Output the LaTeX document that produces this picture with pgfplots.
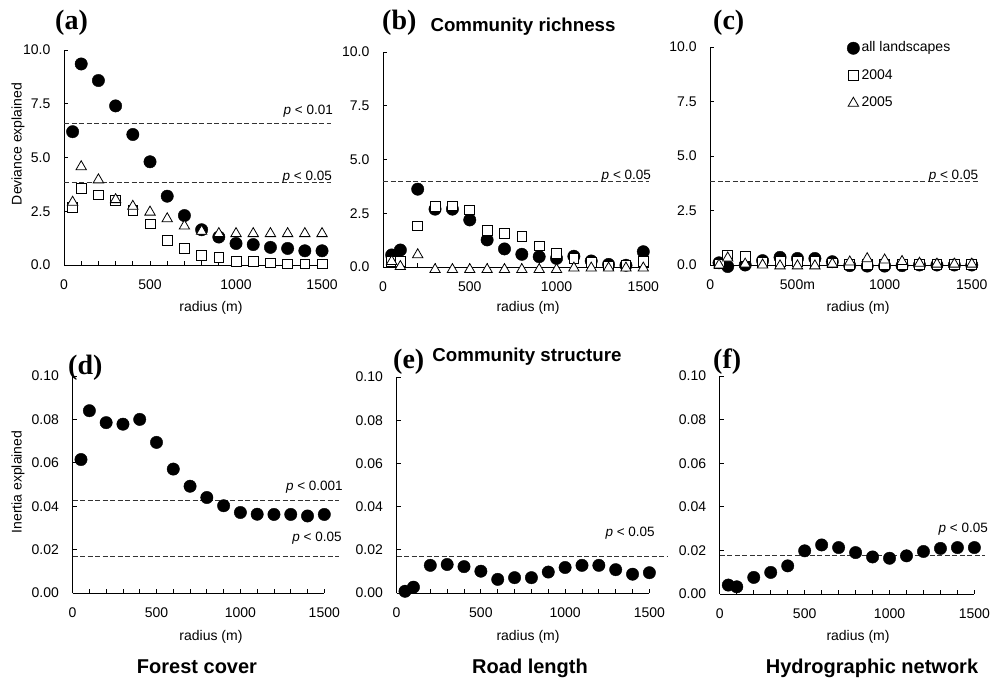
\documentclass[border=0pt]{standalone}
\usepackage{fontspec}
\setmainfont{Liberation Sans}
\newfontfamily\tnr{Liberation Serif}
\usepackage{pgfplots}
\pgfplotsset{compat=1.18}
\pgfplotsset{
  myax/.style={
    scale only axis, clip=false,
    axis x line*=bottom, axis y line*=left,
    axis line style={black, line width=0.8bp},
    tick style={black, line width=0.8bp},
    tick align=inside,
    major tick length=4bp, minor tick length=4bp,
    xmin=0, ymin=0,
    xtick={0,500,1000,1500},
    xticklabels={0,500,1000,1500},
    minor xtick={100,200,300,400,600,700,800,900,1100,1200,1300,1400},
    tick label style={font=\fontsize{14bp}{16bp}\selectfont},
    xticklabel style={anchor=center, inner sep=0pt, yshift=-20bp},
    yticklabel style={anchor=east, inner sep=0pt, xshift=-13.5bp},
    /pgf/number format/assume math mode=true,
    anchor=south west,
  },
  topax/.style={myax, xmax=1530, ymax=10, ytick={0,2.5,5,7.5,10},
    yticklabels={0.0,2.5,5.0,7.5,10.0}},
  botax/.style={myax, xmax=1500, ymax=0.1, ytick={0,0.02,0.04,0.06,0.08,0.1},
    yticklabels={0.00,0.02,0.04,0.06,0.08,0.10}},
  allp/.style={only marks, mark=*, mark size=6.2bp, draw=black, fill=black},
  y04/.style={only marks, mark=square*, mark size=4.9bp, draw=black, fill=white, line width=0.8bp},
  y05/.style={only marks, mark=triangle*, mark size=6bp, draw=black, fill=white, line width=0.8bp},
  thr/.style={black!80, line width=1bp, dash pattern=on 5bp off 2.5bp, mark=none, forget plot},
}
\newcommand{\pl}[1]{\textit{p} < #1}
\begin{document}
\begin{tikzpicture}[every node/.style={font=\fontsize{14bp}{16bp}\selectfont}]
\useasboundingbox (0,0) rectangle (993bp,680bp);

% (a)
\begin{axis}[topax, at={(64bp,415bp)}, width=263.2bp, height=215bp]
\addplot[thr] coordinates {(0,6.57) (1554,6.57)};
\addplot[thr] coordinates {(0,3.83) (1554,3.83)};
\addplot[allp] coordinates {(50,6.2)(100,9.35)(200,8.58)(300,7.4)(400,6.07)(500,4.8)(600,3.2)(700,2.3)(800,1.64)(900,1.3)(1000,1.0)(1100,0.95)(1200,0.82)(1300,0.77)(1400,0.66)(1500,0.66)};
\addplot[y04] coordinates {(50,2.68)(100,3.57)(200,3.26)(300,2.99)(400,2.53)(500,1.91)(600,1.15)(700,0.77)(800,0.46)(900,0.35)(1000,0.15)(1100,0.15)(1200,0.1)(1300,0.05)(1400,0.05)(1500,0.05)};
\addplot[y05] coordinates {(50,2.92)(100,4.57)(200,3.96)(300,3.04)(400,2.73)(500,2.46)(600,2.15)(700,1.81)(800,1.57)(900,1.46)(1000,1.46)(1100,1.46)(1200,1.46)(1300,1.46)(1400,1.46)(1500,1.46)};
\node[anchor=base east, inner sep=0pt, yshift=9bp, font=\fontsize{13.5bp}{15bp}\selectfont] at (axis cs:1564,6.57) {\pl{0.01}};
\node[anchor=base east, inner sep=0pt, yshift=2.5bp, font=\fontsize{13.5bp}{15bp}\selectfont] at (axis cs:1558,3.83) {\pl{0.05}};
\end{axis}

% (b)
\begin{axis}[topax, at={(383bp,413bp)}, width=265.5bp, height=215bp]
\addplot[thr] coordinates {(0,3.97) (1530,3.97)};
\addplot[allp] coordinates {(50,0.56)(100,0.79)(200,3.62)(300,2.69)(400,2.69)(500,2.19)(600,1.26)(700,0.84)(800,0.59)(900,0.48)(1000,0.40)(1100,0.5)(1200,0.28)(1300,0.12)(1400,0.08)(1500,0.71)};
\addplot[y04] coordinates {(50,0.27)(100,0.25)(200,1.91)(300,2.81)(400,2.84)(500,2.66)(600,1.69)(700,1.57)(800,1.44)(900,0.98)(1000,0.64)(1100,0.4)(1200,0.23)(1300,0.05)(1400,0.08)(1500,0.25)};
\addplot[y05] coordinates {(50,0.26)(100,0.02)(200,0.57)(300,-0.12)(400,-0.12)(500,-0.12)(600,-0.12)(700,-0.12)(800,-0.12)(900,-0.12)(1000,-0.12)(1100,-0.05)(1200,-0.05)(1300,-0.05)(1400,-0.05)(1500,-0.05)};
\node[anchor=base east, inner sep=0pt, yshift=2.5bp, font=\fontsize{13.5bp}{15bp}\selectfont] at (axis cs:1545,3.97) {\pl{0.05}};
\end{axis}

% (c)
\begin{axis}[topax, at={(710.3bp,415bp)}, width=266.7bp, height=218bp,
  xticklabels={0,500m,1000,1500},
  legend style={at={(axis cs:784,10.25)}, anchor=north west, draw=none, fill=none,
    inner sep=0pt, row sep=14.5bp, font=\fontsize{14bp}{16bp}\selectfont,
    nodes={inner sep=0pt, text height=10bp, text depth=3bp},
    /tikz/every odd column/.append style={column sep=2bp}},
  legend cell align=left,
  legend image code/.code={\draw[#1] plot coordinates {(0bp,0bp)};}]
\addplot[thr] coordinates {(0,3.82) (1537,3.82)};
\addplot[allp] coordinates {(50,0.1)(100,-0.07)(200,0.0)(300,0.2)(400,0.35)(500,0.3)(600,0.3)(700,0.15)(800,-0.03)(900,-0.05)(1000,-0.05)(1100,-0.03)(1200,0)(1300,0)(1400,0)(1500,0)};
\addplot[y04] coordinates {(50,0.05)(100,0.46)(200,0.40)(300,0.13)(400,0.15)(500,0.15)(600,0.17)(700,0.1)(800,0.03)(900,0.03)(1000,0.03)(1100,0.03)(1200,0.03)(1300,0.03)(1400,0.03)(1500,0.03)};
\addplot[y05] coordinates {(50,0.0)(100,0.32)(200,0.04)(300,0.0)(400,-0.04)(500,-0.04)(600,-0.04)(700,0.05)(800,0.14)(900,0.29)(1000,0.23)(1100,0.16)(1200,0.08)(1300,0.04)(1400,0.04)(1500,0.04)};
\legend{all landscapes,2004,2005}
\node[anchor=base east, inner sep=0pt, yshift=2bp, font=\fontsize{13.5bp}{15bp}\selectfont] at (axis cs:1537,3.82) {\pl{0.05}};
\end{axis}

% (d)
\begin{axis}[botax, at={(72.6bp,87bp)}, width=251.7bp, height=217bp]
\addplot[thr] coordinates {(0,0.0428) (1588,0.0428)};
\addplot[thr] coordinates {(0,0.0166) (1588,0.0166)};
\addplot[allp] coordinates {(50,0.0615)(100,0.084)(200,0.0785)(300,0.0778)(400,0.080)(500,0.0694)(600,0.0571)(700,0.0492)(800,0.044)(900,0.0402)(1000,0.0371)(1100,0.0363)(1200,0.0362)(1300,0.0362)(1400,0.0355)(1500,0.0362)};
\node[anchor=base east, inner sep=0pt, yshift=10bp, font=\fontsize{13.5bp}{15bp}\selectfont] at (axis cs:1611,0.0428) {\pl{0.001}};
\node[anchor=base east, inner sep=0pt, yshift=15bp, font=\fontsize{13.5bp}{15bp}\selectfont] at (axis cs:1604,0.0166) {\pl{0.05}};
\end{axis}

% (e)
\begin{axis}[botax, at={(396.6bp,87bp)}, width=252.8bp, height=216bp]
\addplot[thr] coordinates {(0,0.0169) (1605,0.0169)};
\addplot[allp] coordinates {(50,0.0008)(100,0.0027)(200,0.0128)(300,0.0132)(400,0.0122)(500,0.0101)(600,0.0063)(700,0.0071)(800,0.0071)(900,0.0097)(1000,0.0118)(1100,0.0128)(1200,0.0128)(1300,0.0108)(1400,0.0087)(1500,0.0094)};
\node[anchor=base east, inner sep=0pt, yshift=20bp, font=\fontsize{13.5bp}{15bp}\selectfont] at (axis cs:1533,0.0169) {\pl{0.05}};
\end{axis}

% (f)
\begin{axis}[botax, at={(719.8bp,86bp)}, width=254.6bp, height=218bp]
\addplot[thr] coordinates {(0,0.0175) (1563,0.0175)};
\addplot[allp] coordinates {(50,0.0041)(100,0.0033)(200,0.0076)(300,0.0099)(400,0.0129)(500,0.0198)(600,0.0225)(700,0.0213)(800,0.019)(900,0.017)(1000,0.0164)(1100,0.0175)(1200,0.0195)(1300,0.0209)(1400,0.0213)(1500,0.0213)};
\node[anchor=base east, inner sep=0pt, yshift=23bp, font=\fontsize{13.5bp}{15bp}\selectfont] at (axis cs:1580,0.0175) {\pl{0.05}};
\end{axis}

% panel letters
\foreach \lx/\ly/\lt in {55/650/a, 382/650/b, 713/650/c, 68/305/d, 393/311.7/e, 713/311.7/f}
  \node[anchor=base west, inner sep=0pt, font=\fontsize{28bp}{30bp}\selectfont\tnr\bfseries] at (\lx bp,\ly bp) {(\lt)};
% titles
\node[anchor=base, inner sep=0pt, font=\fontsize{18.7bp}{20bp}\selectfont\bfseries] at (523bp,648.3bp) {Community richness};
\node[anchor=base, inner sep=0pt, font=\fontsize{18.7bp}{20bp}\selectfont\bfseries] at (527bp,318.3bp) {Community structure};
% bottom group labels
\node[anchor=base, inner sep=0pt, font=\fontsize{20bp}{22bp}\selectfont\bfseries] at (197bp,7bp) {Forest cover};
\node[anchor=base, inner sep=0pt, font=\fontsize{20bp}{22bp}\selectfont\bfseries] at (530bp,7bp) {Road length};
\node[anchor=base, inner sep=0pt, font=\fontsize{20bp}{22bp}\selectfont\bfseries] at (872bp,7bp) {Hydrographic network};
% axis labels
\foreach \rx in {211,528,858} {
  \node[inner sep=0pt] at (\rx bp,372bp) {radius (m)};
  \node[inner sep=0pt] at (\rx bp,43bp) {radius (m)};
}
\node[inner sep=0pt, rotate=90] at (18bp,536bp) {Deviance explained};
\node[inner sep=0pt, rotate=90] at (18bp,198bp) {Inertia explained};
\end{tikzpicture}
\end{document}
